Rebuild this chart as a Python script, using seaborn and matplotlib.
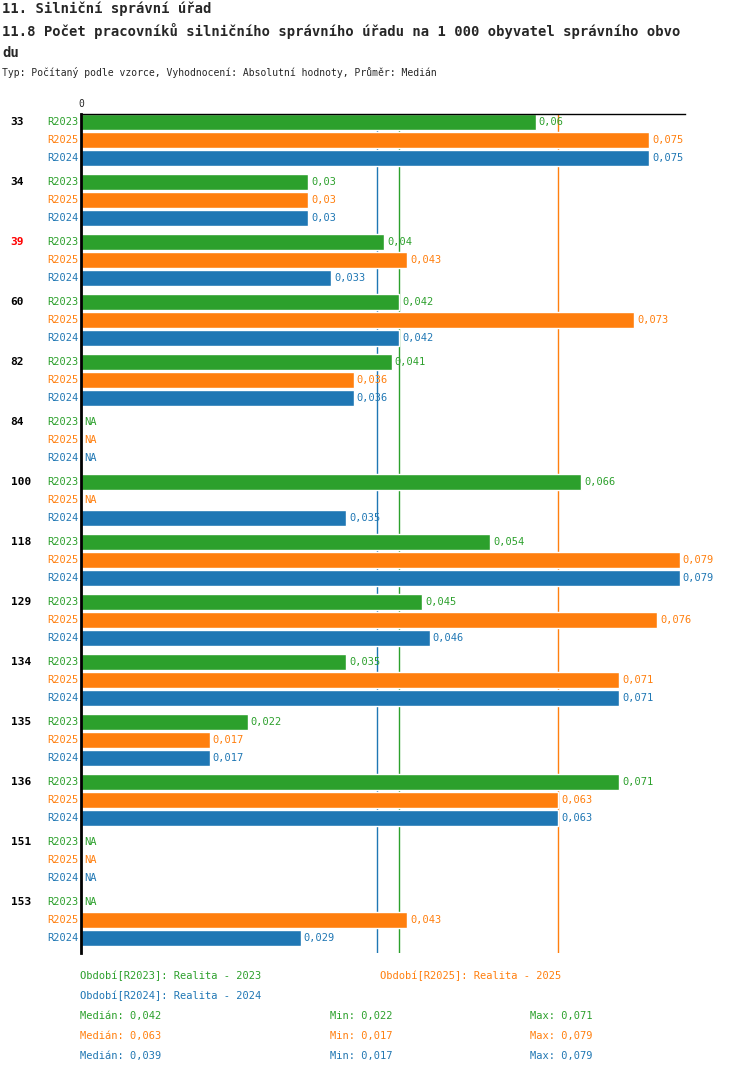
import numpy as np
import pandas as pd
import matplotlib
matplotlib.use("Agg")
import matplotlib.pyplot as plt
import seaborn as sns

# data
groups = ["33", "34", "39", "60", "82", "84", "100", "118", "129", "134", "135", "136", "151", "153"]
series = ["R2023", "R2025", "R2024"]
r2023 = [0.06, 0.03, 0.04, 0.042, 0.041, None, 0.066, 0.054, 0.045, 0.035, 0.022, 0.071, None, None]
r2025 = [0.075, 0.03, 0.043, 0.073, 0.036, None, None, 0.079, 0.076, 0.071, 0.017, 0.063, None, 0.043]
r2024 = [0.075, 0.03, 0.033, 0.042, 0.036, None, 0.035, 0.079, 0.046, 0.071, 0.017, 0.063, None, 0.029]
medians = {"R2023": 0.042, "R2025": 0.063, "R2024": 0.039}
mins = {"R2023": 0.022, "R2025": 0.017, "R2024": 0.017}
maxs = {"R2023": 0.071, "R2025": 0.079, "R2024": 0.079}
highlight = "39"

colors = {"R2023": "#2ca02c", "R2025": "#ff7f0e", "R2024": "#1f77b4"}
values = {"R2023": r2023, "R2025": r2025, "R2024": r2024}

rows = []
for gi, g in enumerate(groups):
    for si, s in enumerate(series):
        rows.append({"group": g, "series": s, "pos": gi * 60 + si * 18, "value": values[s][gi]})
df = pd.DataFrame(rows)

sns.set_theme(style="white")
plt.rcParams["font.family"] = ["DejaVu Sans Mono"]

fig = plt.figure(figsize=(7.5, 10.74), dpi=100)
ax = fig.add_axes([81 / 750, 1 - 953 / 1074, (685 - 81) / 750, (953 - 114) / 1074])

sns.barplot(data=df.dropna(), x="value", y="pos", hue="series", palette=colors,
            orient="h", native_scale=True, dodge=False, width=0.9, legend=False, ax=ax,
            saturation=1)

ax.set_xlim(0, 0.0797)
ax.set_ylim(14 * 60 - 9 - 6 + 6, -9 + 1)
for s in series:
    ax.axvline(medians[s], color=colors[s], lw=1, zorder=0)

for _, r in df.iterrows():
    c = colors[r.series]
    if pd.isna(r.value):
        ax.text(0.0004, r.pos, "NA", color=c, fontsize=7.5, va="center", ha="left")
    else:
        ax.text(r.value + 0.0004, r.pos, f"{r.value:g}".replace(".", ","), color=c,
                fontsize=7.5, va="center", ha="left")
    ax.text(-0.0003, r.pos, r.series, color=c, fontsize=7.5, va="center", ha="right")
for gi, g in enumerate(groups):
    ax.text(-0.0093, gi * 60, g, color="red" if g == highlight else "black",
            fontsize=8, fontweight="bold", va="center", ha="left")

ax.set_xlabel("")
ax.set_ylabel("")
ax.set_xticks([])
ax.set_yticks([])
for sp in ["right", "bottom"]:
    ax.spines[sp].set_visible(False)
ax.spines["left"].set_color("black")
ax.spines["left"].set_linewidth(2)
ax.spines["top"].set_color("black")
ax.spines["top"].set_linewidth(1)
ax.text(0, -13, "0", fontsize=7, ha="center", va="bottom")

fig.text(2 / 750, 1 - 9 / 1074, "11. Silniční správní úřad", fontsize=10, fontweight="bold", va="center")
fig.text(2 / 750, 1 - 31 / 1074, "11.8 Počet pracovníků silničního správního úřadu na 1 000 obyvatel správního obvo",
         fontsize=10, fontweight="bold", va="center")
fig.text(2 / 750, 1 - 53 / 1074, "du", fontsize=10, fontweight="bold", va="center")
fig.text(2 / 750, 1 - 73 / 1074, "Typ: Počítaný podle vzorce, Vyhodnocení: Absolutní hodnoty, Průměr: Medián",
         fontsize=7, va="center")

fig.text(80 / 750, 1 - 976 / 1074, "Období[R2023]: Realita - 2023", color=colors["R2023"], fontsize=7.5, va="center")
fig.text(380 / 750, 1 - 976 / 1074, "Období[R2025]: Realita - 2025", color=colors["R2025"], fontsize=7.5, va="center")
fig.text(80 / 750, 1 - 996 / 1074, "Období[R2024]: Realita - 2024", color=colors["R2024"], fontsize=7.5, va="center")
for i, s in enumerate(series):
    y = 1 - (1016 + 20 * i) / 1074
    fig.text(80 / 750, y, f"Medián: {medians[s]:g}".replace(".", ","), color=colors[s], fontsize=7.5, va="center")
    fig.text(330 / 750, y, f"Min: {mins[s]:g}".replace(".", ","), color=colors[s], fontsize=7.5, va="center")
    fig.text(530 / 750, y, f"Max: {maxs[s]:g}".replace(".", ","), color=colors[s], fontsize=7.5, va="center")

fig.savefig("out.png", dpi=100)
